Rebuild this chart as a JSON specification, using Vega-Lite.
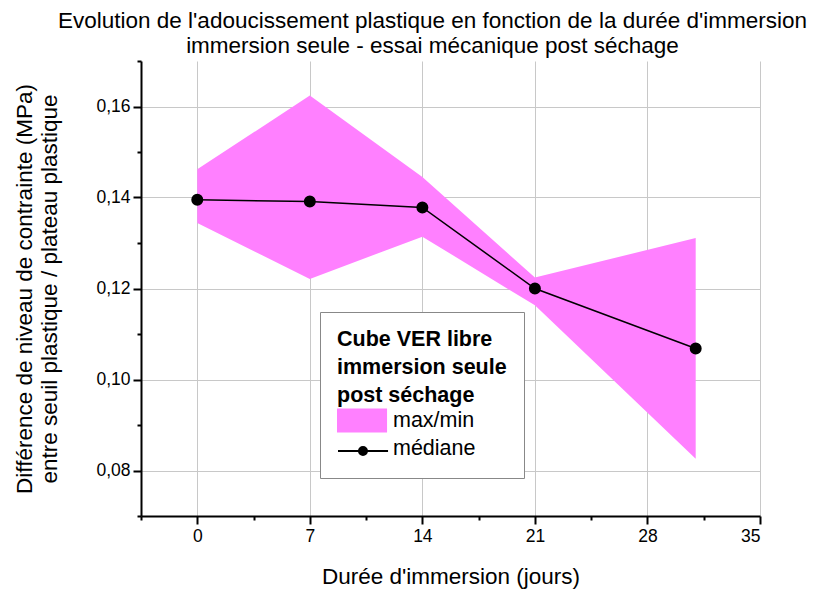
{
  "$schema": "https://vega.github.io/schema/vega-lite/v6.json",
  "autosize": "none",
  "width": 619,
  "height": 455,
  "padding": {"left": 141, "top": 61, "right": 53, "bottom": 76},
  "background": "white",
  "title": {
    "text": ["Evolution de l'adoucissement plastique en fonction de la durée d'immersion", "immersion seule - essai mécanique post séchage"],
    "font": "Liberation Sans",
    "fontSize": 22.5,
    "fontWeight": "normal",
    "color": "black",
    "lineHeight": 25,
    "anchor": "middle",
    "dx": -18,
    "offset": 3
  },
  "data": {
    "values": [
      {"jours": 0, "min": 0.1344, "max": 0.1462, "mediane": 0.1395},
      {"jours": 7, "min": 0.1221, "max": 0.1624, "mediane": 0.1391},
      {"jours": 14, "min": 0.1314, "max": 0.1445, "mediane": 0.1378},
      {"jours": 21, "min": 0.1163, "max": 0.1224, "mediane": 0.12},
      {"jours": 31, "min": 0.0826, "max": 0.1311, "mediane": 0.1068}
    ]
  },
  "encoding": {
    "x": {
      "field": "jours",
      "type": "quantitative",
      "scale": {"domain": [-3.5, 35], "nice": false, "zero": false},
      "axis": {
        "title": "Durée d'immersion (jours)",
        "values": [-3.5, 0, 3.5, 7, 10.5, 14, 17.5, 21, 24.5, 28, 31.5, 35],
        "labelExpr": "datum.value % 7 == 0 ? datum.label : ''",
        "tickSize": {"condition": {"test": "datum.value % 7 == 0", "value": 8}, "value": 4},
        "gridOpacity": {"condition": {"test": "datum.value % 7 == 0", "value": 1}, "value": 0},
        "labelPadding": 3,
        "titlePadding": 21
      }
    }
  },
  "layer": [
    {
      "mark": {"type": "area", "opacity": 1},
      "encoding": {
        "y": {
          "field": "max",
          "type": "quantitative",
          "scale": {"domain": [0.07, 0.17], "nice": false, "zero": false},
          "axis": {
            "title": ["Différence de niveau de contrainte (MPa)", "entre seuil plastique / plateau plastique"],
            "values": [0.07, 0.08, 0.09, 0.1, 0.11, 0.12, 0.13, 0.14, 0.15, 0.16, 0.17],
            "labelExpr": "round(datum.value * 100) % 2 == 0 ? replace(format(datum.value, '.2f'), '.', ',') : ''",
            "tickSize": {"condition": {"test": "round(datum.value * 100) % 2 == 0", "value": 8}, "value": 4},
            "gridOpacity": {"condition": {"test": "round(datum.value * 100) % 2 == 0 && datum.value > 0.075", "value": 1}, "value": 0},
            "labelPadding": 3,
            "titlePadding": 34,
            "titleLineHeight": 25
          }
        },
        "y2": {"field": "min"},
        "color": {
          "datum": "max/min",
          "type": "nominal",
          "scale": {"domain": ["max/min", "médiane"], "range": ["#ff80ff", "transparent"]},
          "legend": {
            "orient": "none",
            "legendX": 179,
            "legendY": 251,
            "title": ["Cube VER libre", "immersion seule", "post séchage"],
            "titleFont": "Liberation Sans",
            "titleFontSize": 21.5,
            "titleFontWeight": "bold",
            "titleColor": "black",
            "titleLineHeight": 28,
            "titlePadding": 3,
            "labelFont": "Liberation Sans",
            "labelFontSize": 21.5,
            "labelColor": "black",
            "labelOffset": 34,
            "labelLimit": 300,
            "symbolType": "M-1,-1.09H3.55V1.09H-1Z",
            "symbolSize": 484,
            "symbolStrokeWidth": 0,
            "rowPadding": 4,
            "padding": 17,
            "strokeColor": "#888888",
            "fillColor": "white"
          }
        }
      }
    },
    {
      "mark": {"type": "line", "strokeWidth": 1.5, "point": {"filled": true, "fill": "black", "stroke": "black", "size": 100, "opacity": 1}},
      "encoding": {
        "y": {"field": "mediane", "type": "quantitative"},
        "stroke": {
          "datum": "médiane",
          "type": "nominal",
          "scale": {"domain": ["médiane"], "range": ["#000000"]},
          "legend": {
            "orient": "none",
            "legendX": 196,
            "legendY": 378,
            "title": null,
            "labelFont": "Liberation Sans",
            "labelFontSize": 21.5,
            "labelOpacity": 0,
            "labelOffset": 34,
            "symbolType": "M-1,0H3.55M1.634,0A0.364,0.364,0,1,1,0.906,0A0.364,0.364,0,1,1,1.634,0ZM1.497,0A0.227,0.227,0,1,1,1.043,0A0.227,0.227,0,1,1,1.497,0ZM1.361,0A0.091,0.091,0,1,1,1.179,0A0.091,0.091,0,1,1,1.361,0Z",
            "symbolSize": 484,
            "symbolStrokeWidth": 2,
            "padding": 0
          }
        }
      }
    }
  ],
  "config": {
    "view": {"stroke": null},
    "axis": {
      "domainColor": "black",
      "domainWidth": 2,
      "tickColor": "black",
      "tickWidth": 2,
      "gridColor": "#c8c8c8",
      "gridWidth": 1,
      "labelFont": "Liberation Sans",
      "labelFontSize": 17.5,
      "labelColor": "black",
      "titleFont": "Liberation Sans",
      "titleFontSize": 22.5,
      "titleFontWeight": "normal",
      "titleColor": "black"
    }
  }
}
